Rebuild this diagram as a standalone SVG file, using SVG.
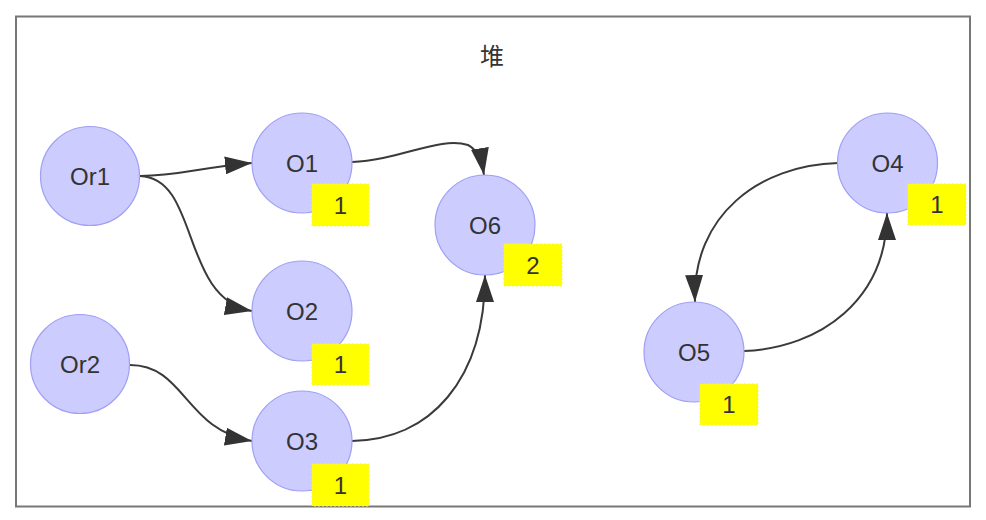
<svg xmlns="http://www.w3.org/2000/svg" width="986" height="520" viewBox="0 0 986 520">
<style>
.node circle{fill:#ccccff;stroke:#9f9ff5;stroke-width:1.2}
.node text,.badge text{font-family:"Liberation Sans",Arial,sans-serif;font-size:24px;fill:#333;text-anchor:middle;dominant-baseline:central}
.badge rect{fill:#ffff00;stroke:#f5f060;stroke-width:1;stroke-dasharray:2 2}
.edge{fill:none;stroke:#3a3a3a;stroke-width:2;marker-end:url(#arrow)}
.title{font-family:"Liberation Sans","Noto Sans CJK SC",sans-serif;font-size:24px;fill:#333;text-anchor:middle;dominant-baseline:central}
</style>
<defs>
<marker id="arrow" markerUnits="userSpaceOnUse" markerWidth="28" markerHeight="18" refX="27" refY="9" orient="auto">
<path d="M0,0 L27,9 L0,18 z" fill="#333"/>
</marker>
</defs>
<rect width="986" height="520" fill="#fff"/>
<rect id="frame" x="16" y="16.5" width="954" height="490" fill="#fff" stroke="#777" stroke-width="2"/>
<text class="title" x="492" y="56">堆</text>
<g id="connectors">
<path class="edge" d="M140,176 C 180,176 195,168 252,163"/>
<path class="edge" d="M140,176 C 200,178 180,298 252,311"/>
<path class="edge" d="M352,162 C 400,160 440,136 468,145 C 478,150 482,162 484,175"/>
<path class="edge" d="M130,365 C 185,365 185,430 252,441"/>
<path class="edge" d="M352,441 C 430,440 485,380 485,275"/>
<path class="edge" d="M838,163 C 760,165 692,215 695,302"/>
<path class="edge" d="M744,351 C 820,348 887,300 887,213"/>
</g>
<g id="Or1" class="node"><circle cx="90" cy="176" r="49.5"/><text x="90" y="176">Or1</text></g>
<g id="Or2" class="node"><circle cx="80" cy="364" r="49.5"/><text x="80" y="364">Or2</text></g>
<g id="O1" class="node"><circle cx="302" cy="163" r="50"/><text x="302" y="163">O1</text></g>
<g id="O2" class="node"><circle cx="302" cy="311" r="50"/><text x="302" y="311">O2</text></g>
<g id="O3" class="node"><circle cx="302" cy="441" r="50"/><text x="302" y="441">O3</text></g>
<g id="O6" class="node"><circle cx="485" cy="225" r="50"/><text x="485" y="225">O6</text></g>
<g id="O4" class="node"><circle cx="887.5" cy="163" r="50"/><text x="887.5" y="163">O4</text></g>
<g id="O5" class="node"><circle cx="694" cy="352" r="50"/><text x="694" y="352">O5</text></g>
<g id="badge-O1" class="badge"><rect x="312" y="184" width="57" height="42"/><text x="340.5" y="205">1</text></g>
<g id="badge-O2" class="badge"><rect x="312" y="344" width="57" height="41"/><text x="340.5" y="364.5">1</text></g>
<g id="badge-O3" class="badge"><rect x="312" y="464" width="57" height="42"/><text x="340.5" y="485">1</text></g>
<g id="badge-O6" class="badge"><rect x="504" y="244" width="58" height="42"/><text x="533" y="265">2</text></g>
<g id="badge-O4" class="badge"><rect x="908" y="184" width="58" height="41"/><text x="937" y="204.5">1</text></g>
<g id="badge-O5" class="badge"><rect x="700" y="384" width="58" height="41"/><text x="729" y="404.5">1</text></g>
</svg>
